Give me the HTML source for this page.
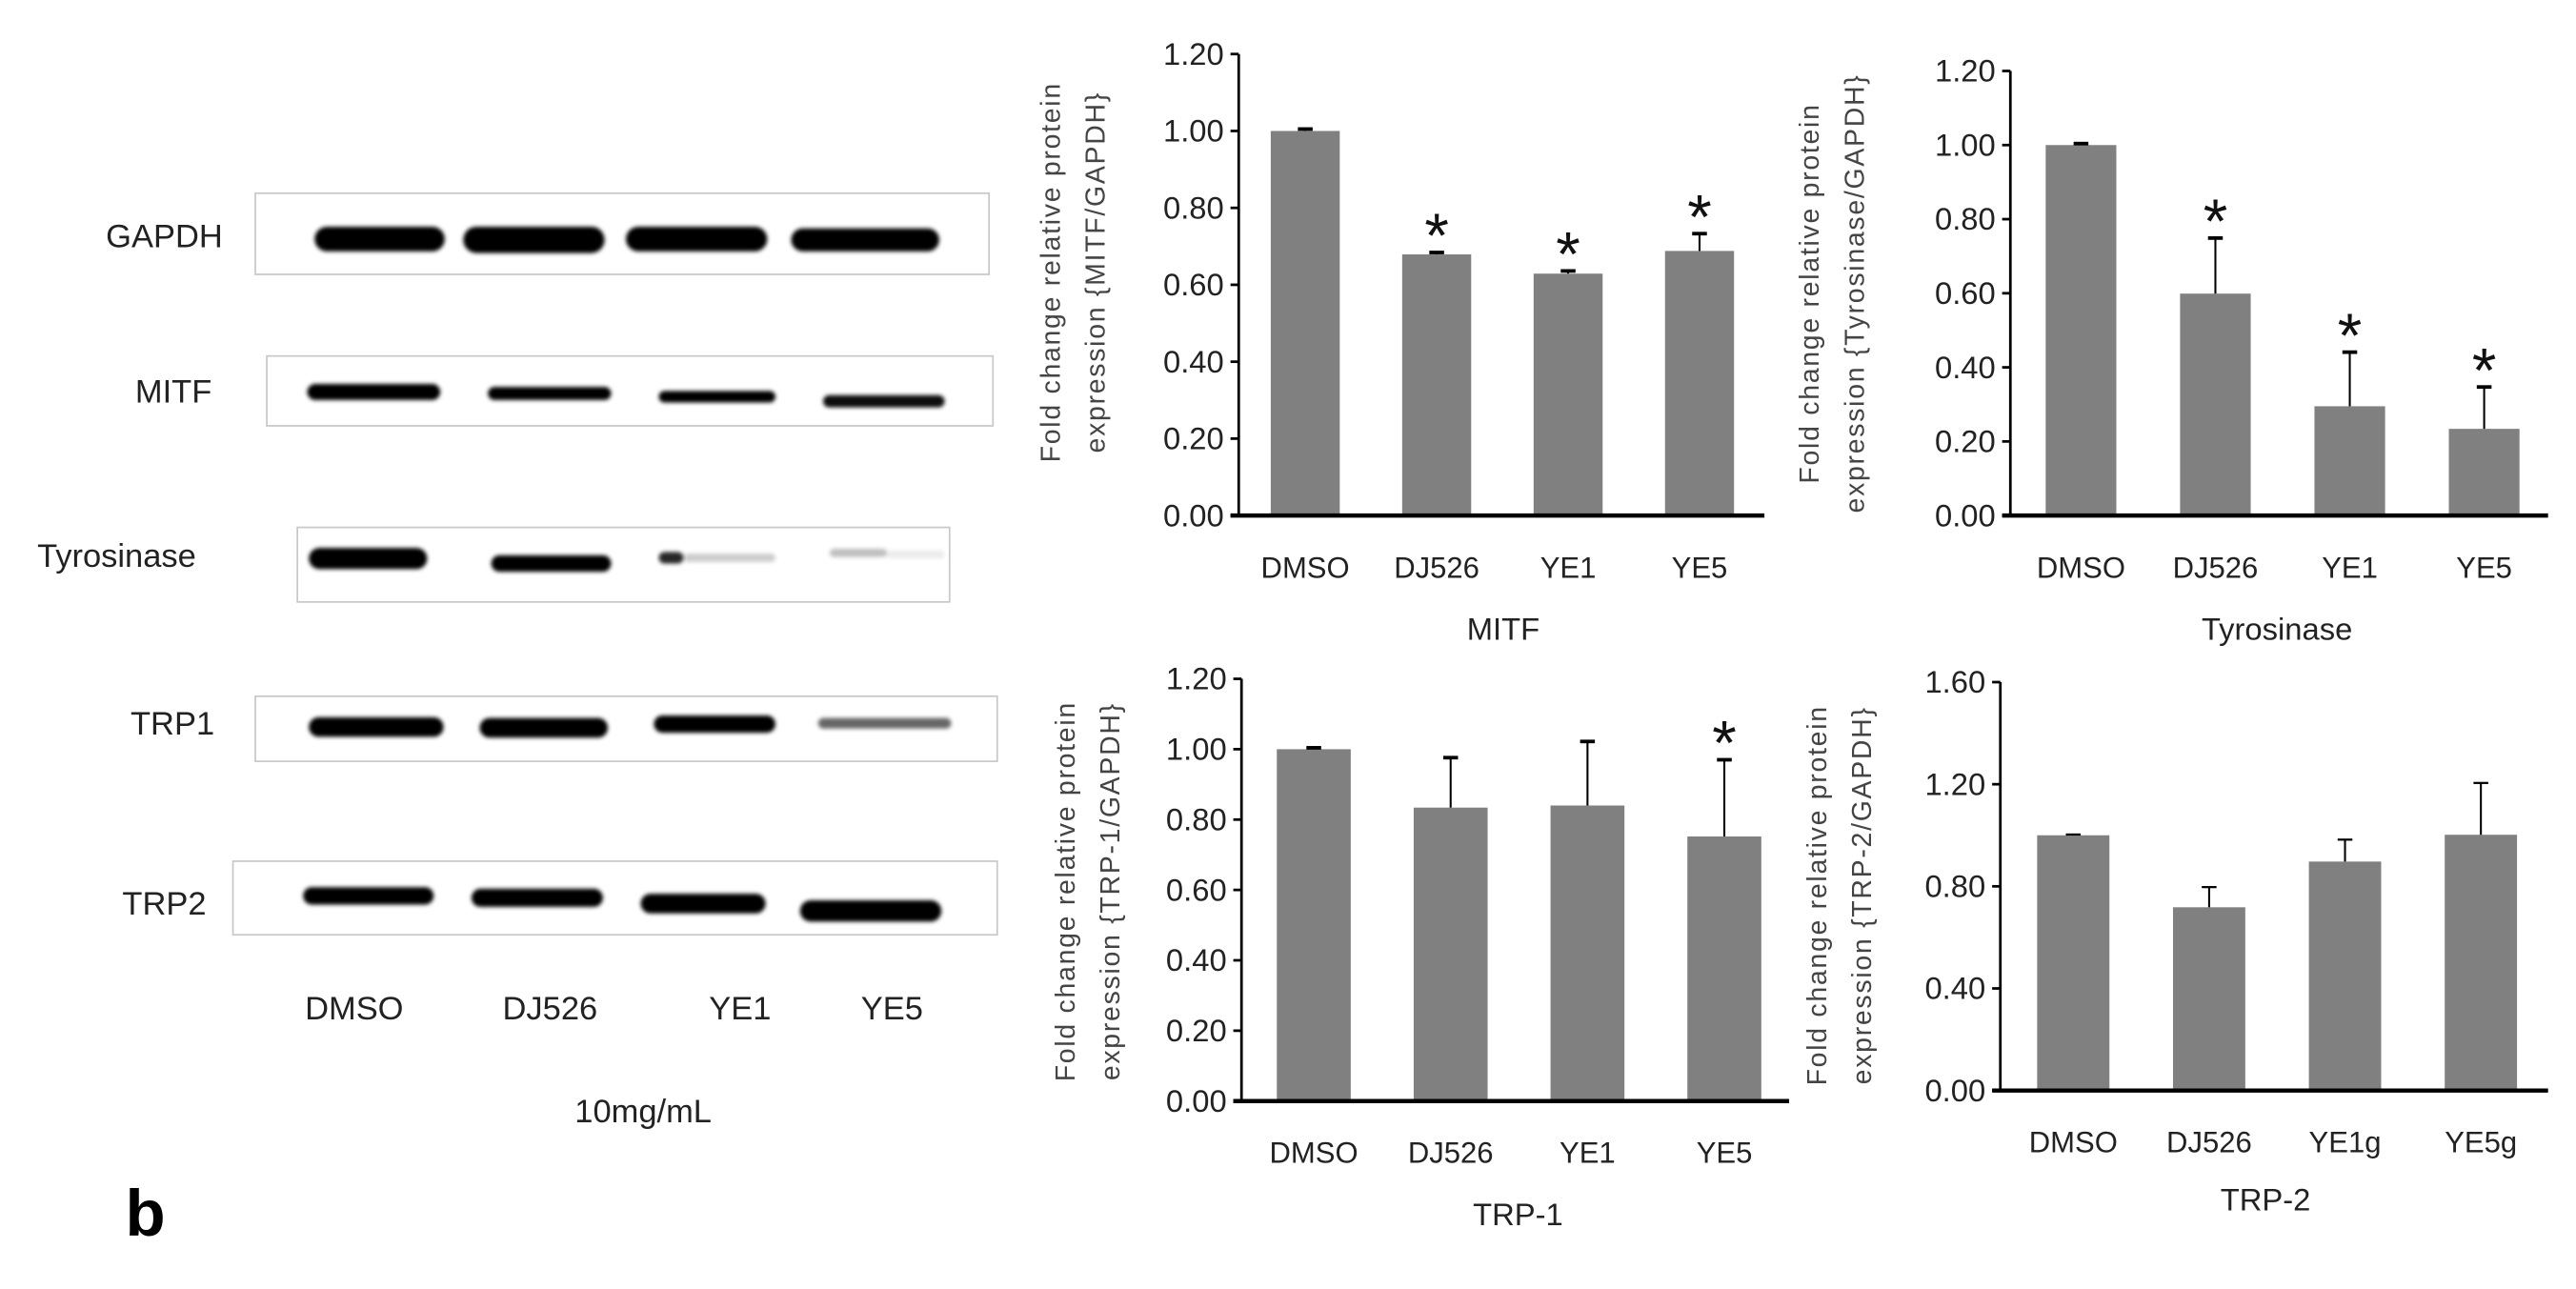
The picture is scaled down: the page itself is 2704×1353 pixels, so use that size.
<!DOCTYPE html>
<html><head><meta charset="utf-8"><style>
html,body{margin:0;padding:0;background:#fff;}
svg{display:block;}
text{font-family:"Liberation Sans",sans-serif;fill:#222;}
.tick{font-size:19px;}
.cat{font-size:18px;}
.ttl{font-size:19px;}
.yt{font-size:16.5px;fill:#444;letter-spacing:1px;}
.blab{font-size:20px;fill:#222;}
</style></head><body>
<svg id="fig" width="2704" height="1353" viewBox="0 0 1568 784.6" preserveAspectRatio="none" xmlns="http://www.w3.org/2000/svg">
<defs><filter id="bl" x="-10%" y="-50%" width="120%" height="200%"><feGaussianBlur stdDeviation="1.3"/></filter></defs>
<g id="blots"></g>
<g id="charts"></g>
</svg>
<script>
// ---- chart data ----
const categories = ["DMSO","DJ526","YE1","YE5"];
const categoriesTrp2 = ["DMSO","DJ526","YE1g","YE5g"];
const mitfValues = [1.00,0.679,0.629,0.688];
const mitfErrors = [0.005,0.005,0.007,0.045];
const mitfSig = [false,true,true,true];
const tyrValues = [1.00,0.599,0.295,0.234];
const tyrErrors = [0.004,0.15,0.146,0.113];
const tyrSig = [false,true,true,true];
const trp1Values = [1.00,0.834,0.840,0.752];
const trp1Errors = [0.004,0.142,0.182,0.218];
const trp1Sig = [false,false,false,true];
const trp2Values = [1.00,0.718,0.897,1.002];
const trp2Errors = [0.003,0.079,0.086,0.203];
const trp2Sig = [false,false,false,false];
const ticks12 = ["0.00","0.20","0.40","0.60","0.80","1.00","1.20"];
const ticks16 = ["0.00","0.40","0.80","1.20","1.60"];

const NS="http://www.w3.org/2000/svg";
function mk(tag,attrs,parent){const e=document.createElementNS(NS,tag);for(const k in attrs)e.setAttribute(k,attrs[k]);parent.appendChild(e);return e;}

const charts=document.getElementById('charts');
function drawChart(o){
  const g=mk('g',{},charts);
  
  
  const yMax=parseFloat(o.ticks[o.ticks.length-1]);
  const ys=v=>o.y0-(v/yMax)*(o.y0-o.yTop);
  const xs=i=>o.x0+o.first+i*o.step;
  o.ticks.forEach(t=>{
    const y=ys(parseFloat(t));
    const l=mk('line',{x1:o.ax-5,x2:o.ax,y1:y,y2:y,stroke:'#000','stroke-width':1.6},g);
    
    
    const tx=mk('text',{x:o.ax-9,y:y+6.5,'text-anchor':'end','class':'tick'},g);
    tx.textContent=t;
    
    
  });
  o.values.forEach((v,i)=>{
    const cx=xs(i);
    const r=mk('rect',{x:cx-o.bw/2,y:ys(v),width:o.bw,height:o.y0-ys(v),fill:'#808080'},g);
    
    
    const et=ys(v+o.errors[i]);
    const e1=mk('line',{x1:cx,x2:cx,y1:ys(v),y2:et,stroke:'#000','stroke-width':1.2},g);
    
    
    const e2=mk('line',{x1:cx-4.5,x2:cx+4.5,y1:et,y2:et,stroke:'#000','stroke-width':o.capW},g);
    
    
    if(o.sig[i]){
      const s=mk('text',{x:cx,y:et+3,'text-anchor':'middle',style:'font-size:38px;fill:#111'},g);
      s.textContent='*';
      
      
    }
    const c=mk('text',{x:cx,y:o.labY+6,'text-anchor':'middle','class':'cat'},g);
    c.textContent=o.cats[i];
    
    
  });
  const ya=mk('line',{x1:o.ax,x2:o.ax,y1:o.yTop,y2:o.y0,stroke:'#000','stroke-width':1.6},g);
  
  
  const xa=mk('line',{x1:o.ax-5,x2:o.axEnd,y1:o.y0,y2:o.y0,stroke:'#000','stroke-width':2.6},g);
  
  
  const t=mk('text',{x:o.titleX,y:o.titleY+6.5,'text-anchor':'middle','class':'ttl'},g);
  t.textContent=o.title;
  
  
  const yt=mk('text',{transform:`translate(${o.ytX},${o.ytY}) rotate(-90)`,'text-anchor':'middle','class':'yt'},g);
  
  
  const s1=mk('tspan',{x:0,y:0},yt);s1.textContent='Fold change relative protein';
  const s2=mk('tspan',{x:0,dy:27.5},yt);s2.textContent='expression {'+o.ylab+'/GAPDH}';
}
drawChart({name:'mitf-chart',title:'MITF',ylab:'MITF',cats:categories,values:mitfValues,errors:mitfErrors,sig:mitfSig,ticks:ticks12,
  ax:754,axEnd:1074,x0:754,first:40.5,step:80,bw:42,y0:313.8,yTop:32.9,labY:345.6,titleX:915,titleY:383,ytX:645,ytY:165.7,capW:2.2});
drawChart({name:'tyrosinase-chart',title:'Tyrosinase',ylab:'Tyrosinase',cats:categories,values:tyrValues,errors:tyrErrors,sig:tyrSig,ticks:ticks12,
  ax:1223.7,axEnd:1551,x0:1223.7,first:43,step:81.8,bw:43,y0:313.8,yTop:43.2,labY:345.6,titleX:1386,titleY:383,ytX:1107,ytY:178.6,capW:2.2});
drawChart({name:'trp1-chart',title:'TRP-1',ylab:'TRP-1',cats:categories,values:trp1Values,errors:trp1Errors,sig:trp1Sig,ticks:ticks12,
  ax:755.7,axEnd:1089,x0:755.7,first:44,step:83.3,bw:45,y0:670.2,yTop:413.2,labY:701.8,titleX:924,titleY:739.4,ytX:654,ytY:542.6,capW:2.2});
drawChart({name:'trp2-chart',title:'TRP-2',ylab:'TRP-2',cats:categoriesTrp2,values:trp2Values,errors:trp2Errors,sig:trp2Sig,ticks:ticks16,
  ax:1217.6,axEnd:1551,x0:1217.6,first:44.4,step:82.7,bw:44,y0:663.8,yTop:415.2,labY:695.3,titleX:1379,titleY:730.3,ytX:1111.5,ytY:545,capW:1.3});

// ---- western blot panel ----
const blots=document.getElementById('blots');
const blotRows=[
 {label:'GAPDH',lx:100,ly:143.6,box:[155.4,117.6,602,167],bands:[[191.5,138,270.7,153,1],[282,138,368,154,1],[381,138,467,153,1],[481.6,139,571.7,153,1]]},
 {label:'MITF',lx:105.6,ly:238,box:[162.4,216.7,604.4,259.2],bands:[[187,233.7,268,243.5,1],[297,235.5,372,243.5,1],[401,238,472,245,1],[501,240.5,575,248,0.95]]},
 {label:'Tyrosinase',lx:71,ly:338,box:[181,321,578,366.4],bands:[[188,333.5,260,346.4,1],[299,338,372,348,1],[401,336,416,343,0.85],[416,337,472,342,0.2],[505,334,540,339,0.25],[540,335,575,340,0.08]]},
 {label:'TRP1',lx:105,ly:440,box:[155.4,423.8,607,463.4],bands:[[188,436.6,270,448.5,1],[292,437,370,449,1],[398,435.5,472,446,1],[498,437,579,443.5,0.6]]},
 {label:'TRP2',lx:100,ly:549.7,box:[141.8,524.2,607,569],bands:[[184.5,540,264,550.6,1],[287,541,367,552,1],[390,544,466,556,1],[487,548,573,561,1]]}
];
blotRows.forEach(r=>{
  const g=mk('g',{},blots);
  
  
  const b=r.box;
  const box=mk('rect',{x:b[0],y:b[1],width:b[2]-b[0],height:b[3]-b[1],fill:'#fff',stroke:'#c8c8c8','stroke-width':1},g);
  
  
  r.bands.forEach(d=>{
    const h=d[3]-d[1];
    const e=mk('rect',{x:d[0],y:d[1],width:d[2]-d[0],height:h,rx:h/2,ry:h/2,fill:'#000','fill-opacity':d[4],filter:'url(#bl)'},g);
    
    
  });
  const t=mk('text',{x:r.lx,y:r.ly+7,'text-anchor':'middle','class':'blab'},g);
  t.textContent=r.label;
  
  
});
const laneLabels=["DMSO","DJ526","YE1","YE5"];
const laneX=[215.6,334.8,450.5,543];
laneLabels.forEach((l,i)=>{
  const t=mk('text',{x:laneX[i],y:620.5,'text-anchor':'middle','class':'blab'},blots);
  t.textContent=l;
  
  
});
const conc=mk('text',{x:391.5,y:683,'text-anchor':'middle','class':'blab'},blots);
conc.textContent='10mg/mL';


const pl=mk('text',{x:88.5,y:752,'text-anchor':'middle',style:'font-size:40px;font-weight:bold;fill:#000'},blots);
pl.textContent='b';


</script>
</body></html>
